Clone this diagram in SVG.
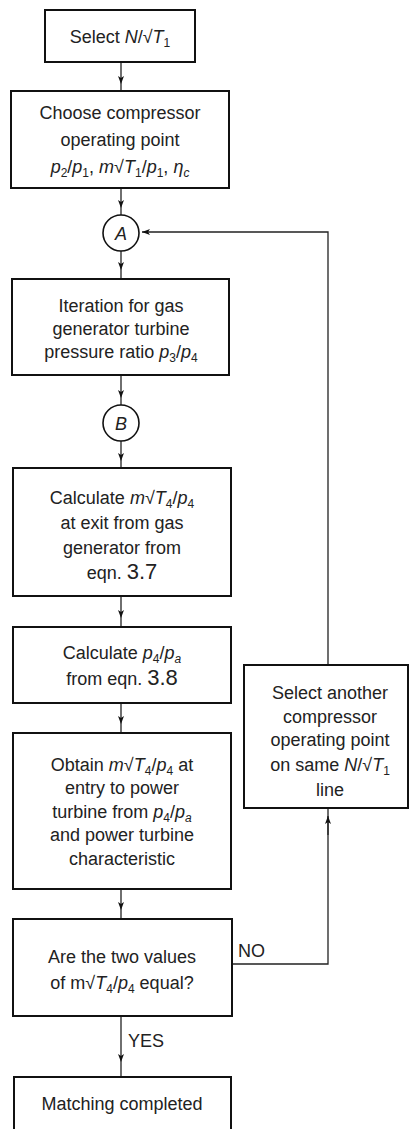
<svg xmlns="http://www.w3.org/2000/svg" width="410" height="1129" viewBox="0 0 410 1129">
<defs>
<style>
.box{fill:#fff;stroke:#111;stroke-width:2}
.c{fill:#fff;stroke:#111;stroke-width:1.6}
.ln{fill:none;stroke:#222;stroke-width:1.3}
.t{font-family:"Liberation Sans",Arial,sans-serif;font-size:18px;fill:#222;text-anchor:middle}
.i{font-style:italic}
.s{font-size:12px}
.big{font-size:22px}
.lab{font-family:"Liberation Sans",Arial,sans-serif;font-size:18px;fill:#222}
</style>
<marker id="ah" viewBox="0 0 8 8" refX="8" refY="4" markerWidth="8" markerHeight="8" markerUnits="userSpaceOnUse" orient="auto">
<path d="M0,1 L8,4 L0,7 L2,4 z" fill="#111"/>
</marker>
</defs>
<rect width="410" height="1129" fill="#fff"/>
<g id="connectors">
<polyline class="ln" points="121,62 121,84 121,91" marker-mid="url(#ah)"/>
<polyline class="ln" points="121,188 121,208 121,215" marker-mid="url(#ah)"/>
<polyline class="ln" points="121,251 121,270 121,279" marker-mid="url(#ah)"/>
<polyline class="ln" points="121,375 121,398 121,405" marker-mid="url(#ah)"/>
<polyline class="ln" points="121,441 121,461 121,468" marker-mid="url(#ah)"/>
<polyline class="ln" points="121,596 121,618 121,627" marker-mid="url(#ah)"/>
<polyline class="ln" points="121,703 121,724 121,733" marker-mid="url(#ah)"/>
<polyline class="ln" points="121,889 121,910 121,919" marker-mid="url(#ah)"/>
<polyline class="ln" points="121,1016 121,1062 121,1077" marker-mid="url(#ah)"/>
<polyline class="ln" points="232,964 328,964 328,808"/>
<line class="ln" x1="328" y1="835" x2="328" y2="816" marker-end="url(#ah)"/>
<polyline class="ln" points="328,665 328,232 142,232" marker-end="url(#ah)"/>
<text class="lab" x="128" y="1047">YES</text>
<text class="lab" x="238" y="957">NO</text>
</g>
<g id="n1">
<rect class="box" x="45" y="10" width="150" height="52"/>
<text class="t" x="120" y="43">Select <tspan class="i">N</tspan>/√<tspan class="i">T</tspan><tspan class="s" dy="4">1</tspan></text>
</g>
<g id="n2">
<rect class="box" x="11" y="91" width="218" height="97"/>
<text class="t" x="120" y="119">Choose compressor</text>
<text class="t" x="120" y="146">operating point</text>
<text class="t" x="120" y="173"><tspan class="i">p</tspan><tspan class="s" dy="4">2</tspan><tspan dy="-4">/</tspan><tspan class="i">p</tspan><tspan class="s" dy="4">1</tspan><tspan dy="-4">, </tspan><tspan class="i">m</tspan>√<tspan class="i">T</tspan><tspan class="s" dy="4">1</tspan><tspan dy="-4">/</tspan><tspan class="i">p</tspan><tspan class="s" dy="4">1</tspan><tspan dy="-4">, </tspan><tspan class="i">η</tspan><tspan class="s i" dy="4">c</tspan></text>
</g>
<g id="nA">
<circle class="c" cx="121" cy="233" r="18"/>
<text class="t i" x="121" y="240">A</text>
</g>
<g id="n3">
<rect class="box" x="12" y="279" width="217" height="96"/>
<text class="t" x="121" y="312">Iteration for gas</text>
<text class="t" x="121" y="335">generator turbine</text>
<text class="t" x="121" y="358">pressure ratio <tspan class="i">p</tspan><tspan class="s" dy="4">3</tspan><tspan dy="-4">/</tspan><tspan class="i">p</tspan><tspan class="s" dy="4">4</tspan></text>
</g>
<g id="nB">
<circle class="c" cx="121" cy="423" r="18"/>
<text class="t i" x="121" y="430">B</text>
</g>
<g id="n4">
<rect class="box" x="13" y="468" width="218" height="128"/>
<text class="t" x="122" y="504">Calculate <tspan class="i">m</tspan>√<tspan class="i">T</tspan><tspan class="s" dy="4">4</tspan><tspan dy="-4">/</tspan><tspan class="i">p</tspan><tspan class="s" dy="4">4</tspan></text>
<text class="t" x="122" y="529">at exit from gas</text>
<text class="t" x="122" y="554">generator from</text>
<text class="t" x="122" y="579">eqn. <tspan class="big">3.7</tspan></text>
</g>
<g id="n5">
<rect class="box" x="13" y="627" width="218" height="76"/>
<text class="t" x="122" y="659">Calculate <tspan class="i">p</tspan><tspan class="s" dy="4">4</tspan><tspan dy="-4">/</tspan><tspan class="i">p</tspan><tspan class="s i" dy="4">a</tspan></text>
<text class="t" x="122" y="685">from eqn. <tspan class="big">3.8</tspan></text>
</g>
<g id="n6">
<rect class="box" x="13" y="733" width="218" height="156"/>
<text class="t" x="122" y="771">Obtain <tspan class="i">m</tspan>√<tspan class="i">T</tspan><tspan class="s" dy="4">4</tspan><tspan dy="-4">/</tspan><tspan class="i">p</tspan><tspan class="s" dy="4">4</tspan><tspan dy="-4"> at</tspan></text>
<text class="t" x="122" y="794">entry to power</text>
<text class="t" x="122" y="818">turbine from <tspan class="i">p</tspan><tspan class="s" dy="4">4</tspan><tspan dy="-4">/</tspan><tspan class="i">p</tspan><tspan class="s i" dy="4">a</tspan></text>
<text class="t" x="122" y="841">and power turbine</text>
<text class="t" x="122" y="865">characteristic</text>
</g>
<g id="n7">
<rect class="box" x="13" y="919" width="219" height="97"/>
<text class="t" x="122" y="963">Are the two values</text>
<text class="t" x="122" y="989">of m√<tspan class="i">T</tspan><tspan class="s" dy="4">4</tspan><tspan dy="-4">/</tspan><tspan class="i">p</tspan><tspan class="s" dy="4">4</tspan><tspan dy="-4"> equal?</tspan></text>
</g>
<g id="n8">
<rect class="box" x="14" y="1077" width="217" height="70"/>
<text class="t" x="122" y="1110">Matching completed</text>
</g>
<g id="n9">
<rect class="box" x="244" y="665" width="164" height="143"/>
<text class="t" x="330" y="699">Select another</text>
<text class="t" x="330" y="723">compressor</text>
<text class="t" x="330" y="746">operating point</text>
<text class="t" x="330" y="771">on same <tspan class="i">N</tspan>/√<tspan class="i">T</tspan><tspan class="s" dy="4">1</tspan></text>
<text class="t" x="330" y="796">line</text>
</g>
</svg>
